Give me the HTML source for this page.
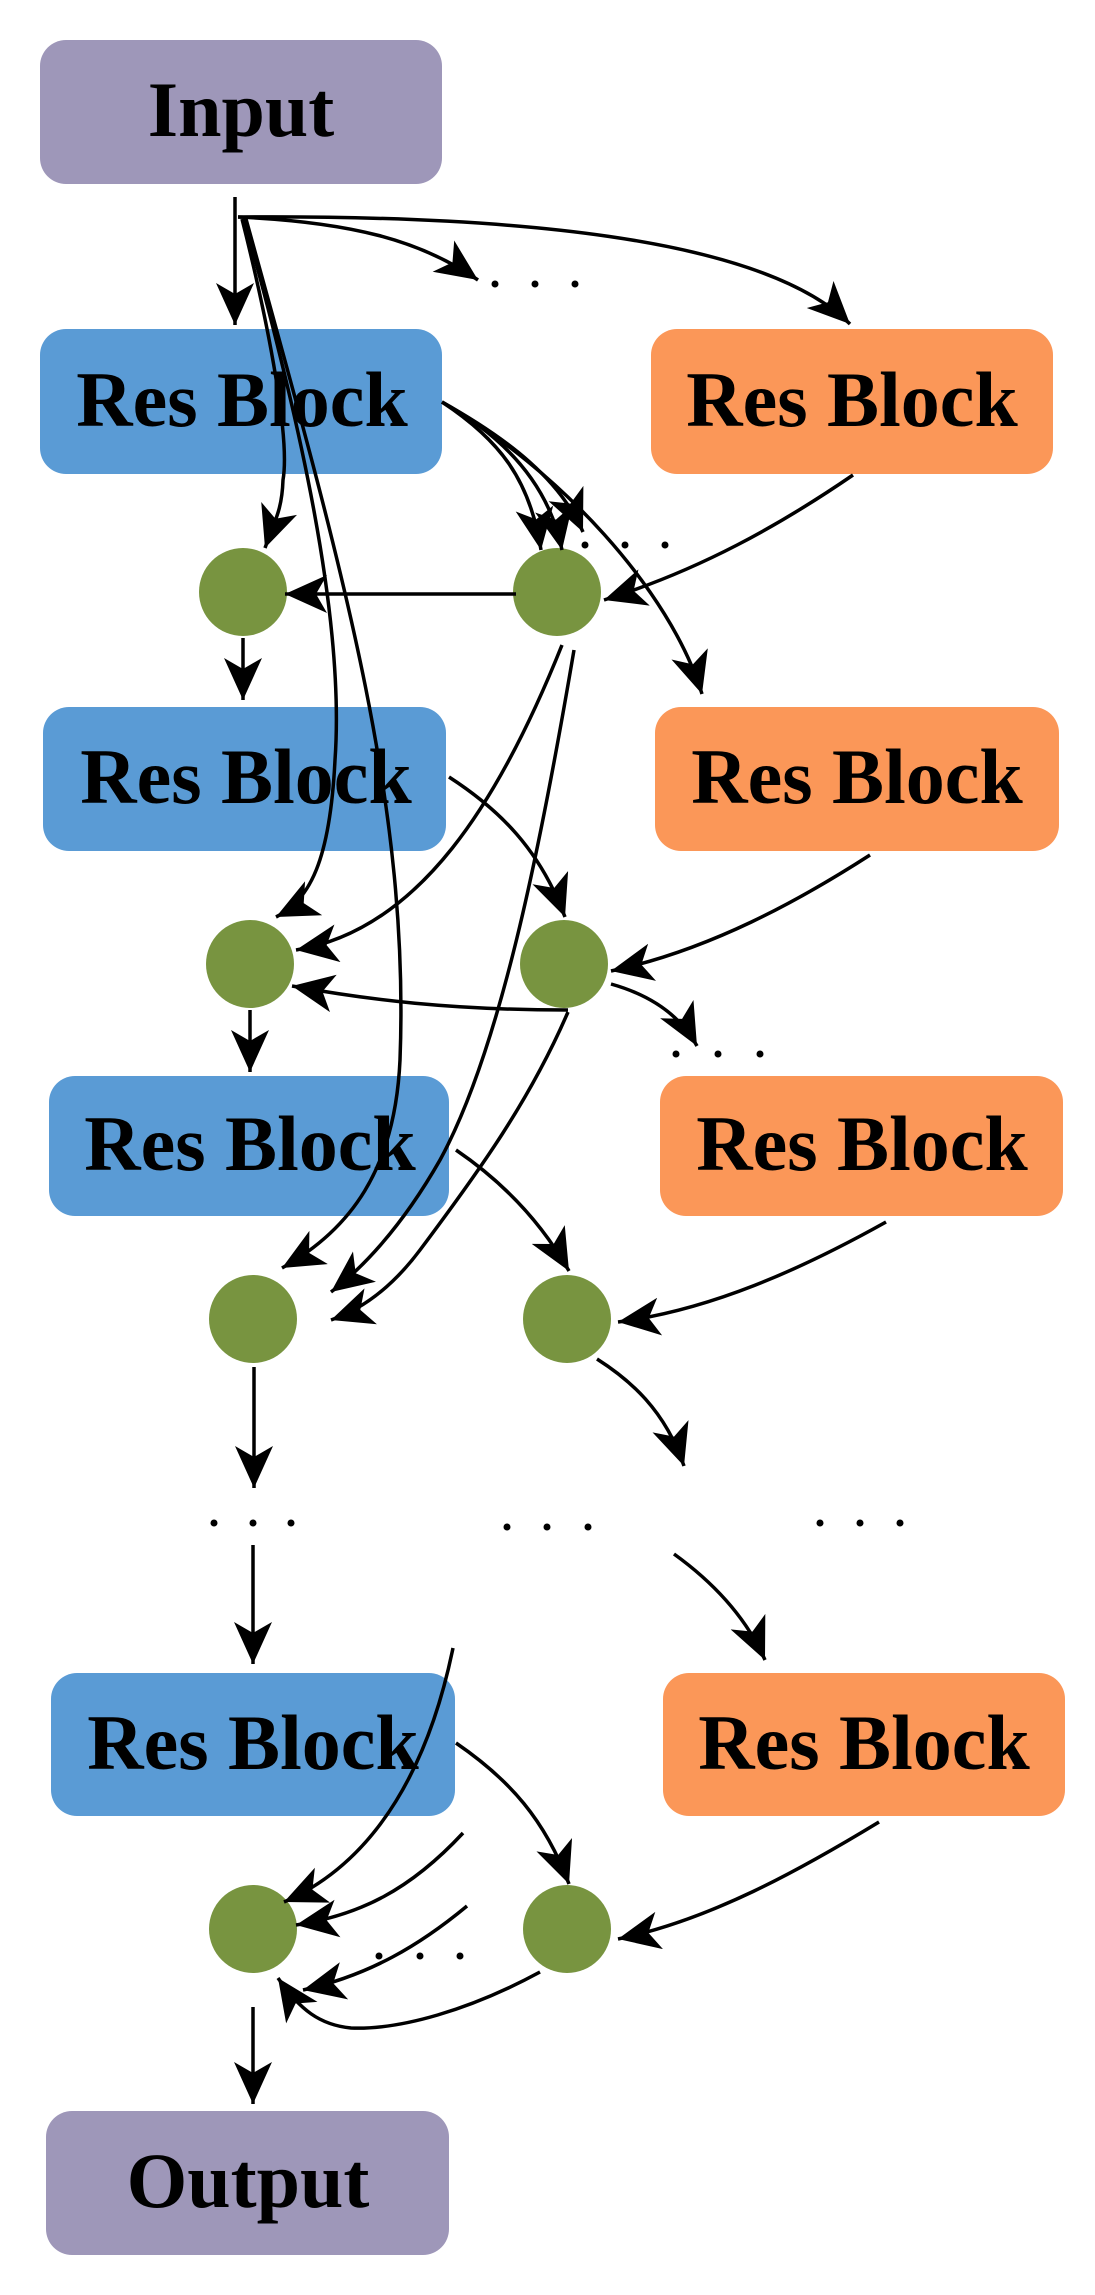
<!DOCTYPE html>
<html><head><meta charset="utf-8"><style>
html,body{margin:0;padding:0;background:#fff;}
svg{display:block;}
text{font-family:"Liberation Serif",serif;font-weight:bold;fill:#000;}
</style></head><body>
<svg width="1095" height="2295" viewBox="0 0 1095 2295" xmlns="http://www.w3.org/2000/svg">
<defs>
<marker id="a" markerUnits="userSpaceOnUse" markerWidth="46" markerHeight="40" refX="42" refY="19" orient="auto">
<path d="M0,0 L42,19 L0,38 L11,19 Z" fill="#000"/>
</marker>
</defs>
<g font-size="78" text-anchor="middle">
<rect x="40" y="40" width="402" height="144" rx="26" fill="#9e97b9"/>
<text x="241" y="136">Input</text>
<rect x="40" y="329" width="402" height="145" rx="26" fill="#5a9bd5"/>
<text x="242" y="426">Res Block</text>
<rect x="651" y="329" width="402" height="145" rx="26" fill="#fb9758"/>
<text x="852" y="426">Res Block</text>
<rect x="43" y="707" width="403" height="144" rx="26" fill="#5a9bd5"/>
<text x="246" y="803">Res Block</text>
<rect x="655" y="707" width="404" height="144" rx="26" fill="#fb9758"/>
<text x="857" y="803">Res Block</text>
<rect x="49" y="1076" width="400" height="140" rx="26" fill="#5a9bd5"/>
<text x="250" y="1170">Res Block</text>
<rect x="660" y="1076" width="403" height="140" rx="26" fill="#fb9758"/>
<text x="862" y="1170">Res Block</text>
<rect x="51" y="1673" width="404" height="143" rx="26" fill="#5a9bd5"/>
<text x="253" y="1769">Res Block</text>
<rect x="663" y="1673" width="402" height="143" rx="26" fill="#fb9758"/>
<text x="864" y="1769">Res Block</text>
<rect x="46" y="2111" width="403" height="144" rx="26" fill="#9e97b9"/>
<text x="248" y="2207">Output</text>
</g>
<g fill="#789440">
<circle cx="243" cy="592" r="44"/><circle cx="557" cy="592" r="44"/>
<circle cx="250" cy="964" r="44"/><circle cx="564" cy="964" r="44"/>
<circle cx="253" cy="1319" r="44"/><circle cx="567" cy="1319" r="44"/>
<circle cx="253" cy="1929" r="44"/><circle cx="567" cy="1929" r="44"/>
</g>
<g fill="#000">
<circle cx="495" cy="284" r="3.5"/><circle cx="535" cy="284" r="3.5"/><circle cx="575" cy="284" r="3.5"/>
<circle cx="585" cy="545" r="3.5"/><circle cx="625" cy="545" r="3.5"/><circle cx="665" cy="545" r="3.5"/>
<circle cx="676" cy="1054" r="3.5"/><circle cx="718" cy="1054" r="3.5"/><circle cx="760" cy="1054" r="3.5"/>
<circle cx="214" cy="1523" r="3.5"/><circle cx="253" cy="1523" r="3.5"/><circle cx="291" cy="1523" r="3.5"/>
<circle cx="507" cy="1527" r="3.5"/><circle cx="547" cy="1527" r="3.5"/><circle cx="588" cy="1527" r="3.5"/>
<circle cx="820" cy="1523" r="3.5"/><circle cx="860" cy="1523" r="3.5"/><circle cx="900" cy="1523" r="3.5"/>
<circle cx="379" cy="1956" r="3.5"/><circle cx="420" cy="1956" r="3.5"/><circle cx="460" cy="1956" r="3.5"/>
</g>
<g fill="none" stroke="#000" stroke-width="3.5" marker-end="url(#a)">
<path d="M235,197 L235,325"/>
<path d="M238,217 C500,215 760,235 850,324"/>
<path d="M238,217 C350,222 420,240 478,280"/>
<path d="M242,219 C270,330 290,440 283,480 C282,510 275,520 265,548"/>
<path d="M244,219 C300,420 345,620 335,760 C330,860 310,900 276,917"/>
<path d="M246,219 C340,560 410,800 400,1060 C395,1170 350,1230 282,1268"/>
<path d="M516,594 L285,594"/>
<path d="M853,475 C780,525 700,570 604,600"/>
<path d="M442,402 C500,440 530,480 541,550"/>
<path d="M442,402 C510,440 550,490 562,550"/>
<path d="M442,402 C510,440 560,480 583,532"/>
<path d="M442,402 C560,470 670,590 702,694"/>
<path d="M243,638 L243,700"/>
<path d="M562,645 C500,800 420,930 296,950"/>
<path d="M574,650 C540,850 500,1050 440,1160 C400,1230 360,1270 331,1292"/>
<path d="M568,1010 C450,1010 370,1000 292,986"/>
<path d="M449,777 C500,810 540,850 565,917"/>
<path d="M870,855 C800,900 710,950 611,971"/>
<path d="M611,984 C650,995 680,1015 697,1046"/>
<path d="M250,1010 L250,1072"/>
<path d="M568,1012 C530,1100 480,1170 420,1250 C390,1290 360,1310 331,1320"/>
<path d="M456,1150 C500,1180 540,1220 569,1271"/>
<path d="M886,1222 C800,1270 710,1310 618,1322"/>
<path d="M597,1359 C630,1380 665,1410 684,1466"/>
<path d="M254,1367 L254,1488"/>
<path d="M253,1545 L253,1664"/>
<path d="M674,1554 C710,1580 745,1615 765,1660"/>
<path d="M453,1648 C430,1760 380,1860 284,1902"/>
<path d="M456,1743 C510,1780 545,1820 569,1884"/>
<path d="M879,1822 C800,1870 710,1920 618,1939"/>
<path d="M463,1833 C410,1890 360,1915 296,1925"/>
<path d="M467,1906 C420,1945 370,1975 303,1990"/>
<path d="M540,1972 C470,2010 400,2030 351,2028 C320,2025 300,2010 278,1978"/>
<path d="M253,2007 L253,2104"/>
</g>
</svg>
</body></html>
